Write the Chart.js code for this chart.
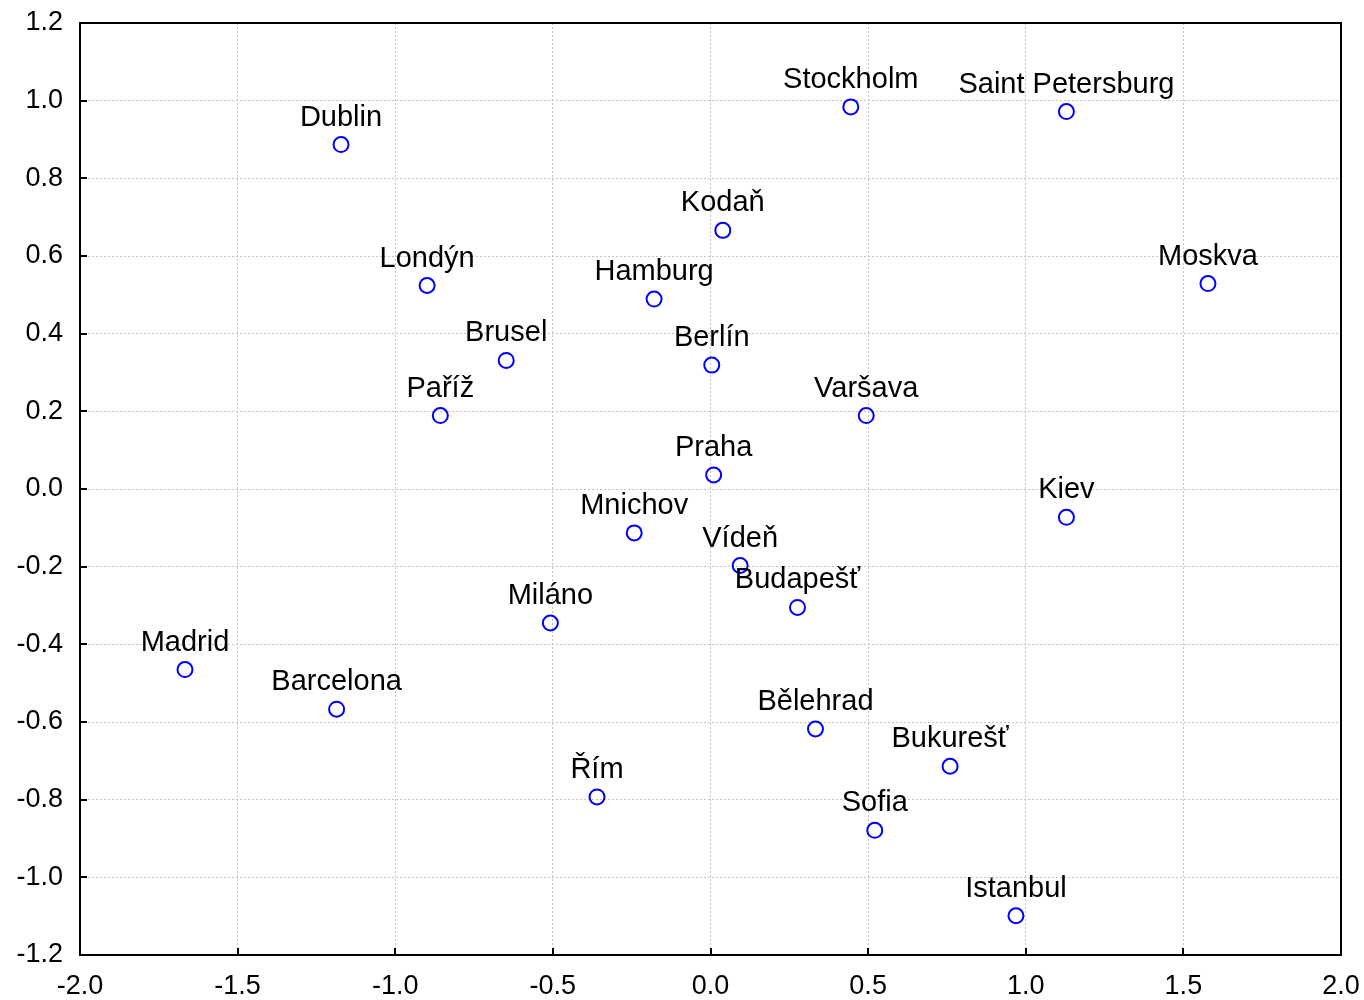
<!DOCTYPE html>
<html>
<head>
<meta charset="utf-8">
<script src="https://cdn.jsdelivr.net/npm/chart.js@4.4.1/dist/chart.umd.min.js"></script>
<style>
  html, body { margin: 0; padding: 0; background: #ffffff; }
  #wrap { width: 1364px; height: 1000px; }
</style>
</head>
<body>
<div id="wrap"><canvas id="c" width="1364" height="1000"></canvas></div>
<script>
const cities = ["Dublin","Stockholm","Saint Petersburg","Kodaň","Londýn","Hamburg","Moskva","Brusel","Berlín","Paříž","Varšava","Praha","Kiev","Mnichov","Vídeň","Budapešť","Miláno","Madrid","Barcelona","Bělehrad","Bukurešť","Řím","Sofia","Istanbul"];
const xValues = [-1.172, 0.445, 1.129, 0.039, -0.899, -0.179, 1.578, -0.648, 0.004, -0.857, 0.494, 0.010, 1.129, -0.242, 0.094, 0.276, -0.508, -1.667, -1.186, 0.333, 0.760, -0.360, 0.521, 0.969];
const yValues = [0.887, 0.984, 0.972, 0.666, 0.524, 0.489, 0.529, 0.331, 0.319, 0.189, 0.189, 0.036, -0.073, -0.113, -0.197, -0.305, -0.345, -0.465, -0.567, -0.618, -0.714, -0.793, -0.879, -1.099];
const xTicks = [-2.0, -1.5, -1.0, -0.5, 0.0, 0.5, 1.0, 1.5, 2.0];
const yTicks = [-1.2, -1.0, -0.8, -0.6, -0.4, -0.2, 0.0, 0.2, 0.4, 0.6, 0.8, 1.0, 1.2];

const FONT = '"Liberation Sans", Arial, Helvetica, sans-serif';

const points = xValues.map((x, i) => ({ x: x, y: yValues[i], label: cities[i] }));

const framePlugin = {
  id: 'frame',
  afterDatasetsDraw(chart) {
    const ctx = chart.ctx;
    const a = chart.chartArea;
    const xs = chart.scales.x, ys = chart.scales.y;
    ctx.save();
    ctx.strokeStyle = '#000';
    ctx.lineWidth = 2;
    ctx.beginPath();
    xTicks.forEach(v => {
      const px = Math.round(xs.getPixelForValue(v));
      ctx.moveTo(px, a.bottom);
      ctx.lineTo(px, a.bottom - 7);
    });
    yTicks.forEach(v => {
      const py = Math.round(ys.getPixelForValue(v));
      ctx.moveTo(a.left, py);
      ctx.lineTo(a.left + 7, py);
    });
    ctx.stroke();
    ctx.beginPath();
    ctx.rect(a.left, a.top, a.right - a.left, a.bottom - a.top);
    ctx.stroke();
    const meta = chart.getDatasetMeta(0);
    ctx.fillStyle = '#000';
    ctx.font = '29px ' + FONT;
    ctx.textAlign = 'center';
    ctx.textBaseline = 'alphabetic';
    meta.data.forEach((el, i) => {
      ctx.fillText(points[i].label, el.x, el.y - 19);
    });
    ctx.restore();
  }
};

new Chart(document.getElementById('c'), {
  type: 'scatter',
  data: {
    datasets: [{
      data: points,
      pointRadius: 7.5,
      pointHoverRadius: 7.5,
      pointBorderWidth: 2,
      pointBorderColor: '#0000ff',
      pointBackgroundColor: 'rgba(0,0,0,0)',
      showLine: false
    }]
  },
  options: {
    responsive: false,
    animation: false,
    events: [],
    layout: { padding: { top: 23, right: 23, left: 0, bottom: 0 } },
    plugins: { legend: { display: false }, tooltip: { enabled: false } },
    scales: {
      x: {
        type: 'linear',
        min: -2.0, max: 2.0,
        afterBuildTicks: s => { s.ticks = xTicks.map(v => ({ value: v })); },
        afterFit: s => { s.height = 45; },
        ticks: {
          color: '#000',
          font: { family: FONT, size: 27 },
          padding: 0,
          maxRotation: 0,
          callback: v => v.toFixed(1)
        },
        grid: { color: '#c4c4c4', lineWidth: 1, drawTicks: true, tickLength: 15, tickColor: 'rgba(0,0,0,0)' },
        border: { display: false, dash: [2, 2] }
      },
      y: {
        type: 'linear',
        min: -1.2, max: 1.2,
        afterBuildTicks: s => { s.ticks = yTicks.map(v => ({ value: v })); },
        afterFit: s => { s.width = 80; },
        ticks: {
          color: '#000',
          font: { family: FONT, size: 27 },
          padding: 0,
          callback: v => v.toFixed(1)
        },
        grid: { color: '#c4c4c4', lineWidth: 1, drawTicks: true, tickLength: 17, tickColor: 'rgba(0,0,0,0)' },
        border: { display: false, dash: [2, 2] }
      }
    }
  },
  plugins: [framePlugin]
});
</script>
</body>
</html>
